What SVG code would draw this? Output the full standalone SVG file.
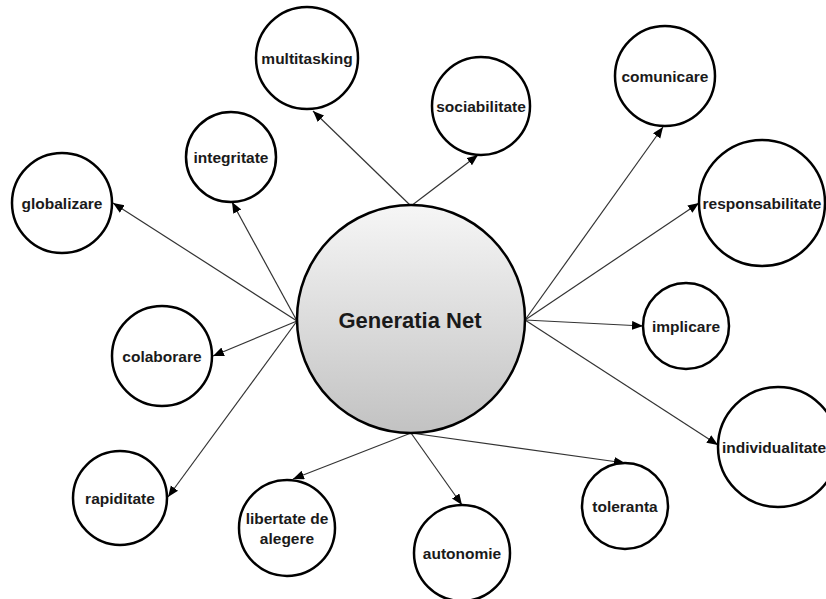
<svg xmlns="http://www.w3.org/2000/svg" width="826" height="599" viewBox="0 0 826 599">
<style>
.node circle{fill:#fff;stroke:#000;stroke-width:2.5}
.node text{font-family:"Liberation Sans",Arial,sans-serif;font-weight:bold;font-size:15.5px;fill:#1a1a1a;text-anchor:middle;dominant-baseline:central}
#center circle{fill:url(#g);stroke:#000;stroke-width:2.5}
#center text{font-size:22px}
#edges line{stroke:#333;stroke-width:1.2;marker-end:url(#arr)}
</style>
<defs>
<linearGradient id="g" x1="0" y1="0" x2="0" y2="1">
<stop offset="0" stop-color="#f6f6f6"/>
<stop offset="1" stop-color="#c2c2c2"/>
</linearGradient>
<marker id="arr" markerUnits="userSpaceOnUse" markerWidth="12" markerHeight="10" refX="11" refY="4.5" orient="auto">
<path d="M0,0 L11,4.5 L0,9 z" fill="#000"/>
</marker>
</defs>
<rect width="826" height="599" fill="#fff"/>
<g id="edges">
<line x1="411" y1="206" x2="313" y2="111"/>
<line x1="411" y1="206" x2="478" y2="155"/>
<line x1="297" y1="321" x2="113" y2="203"/>
<line x1="297" y1="321" x2="232" y2="202"/>
<line x1="297" y1="321" x2="213" y2="356"/>
<line x1="297" y1="321" x2="168" y2="497"/>
<line x1="525" y1="320" x2="663" y2="127"/>
<line x1="525" y1="320" x2="699" y2="203"/>
<line x1="525" y1="320" x2="643" y2="326"/>
<line x1="525" y1="320" x2="718" y2="445"/>
<line x1="411" y1="433" x2="293" y2="479"/>
<line x1="411" y1="433" x2="462" y2="505"/>
<line x1="411" y1="433" x2="625" y2="463"/>
</g>
<g id="center" class="node"><circle cx="411" cy="319" r="114"/><text x="410" y="320">Generatia Net</text></g>
<g id="multitasking" class="node"><circle cx="307" cy="58" r="51"/><text x="307" y="58">multitasking</text></g>
<g id="sociabilitate" class="node"><circle cx="481" cy="106" r="49"/><text x="481" y="106">sociabilitate</text></g>
<g id="comunicare" class="node"><circle cx="665" cy="76" r="50"/><text x="665" y="76">comunicare</text></g>
<g id="integritate" class="node"><circle cx="231" cy="157" r="45"/><text x="231" y="157">integritate</text></g>
<g id="globalizare" class="node"><circle cx="62" cy="203" r="50"/><text x="62" y="203">globalizare</text></g>
<g id="responsabilitate" class="node"><circle cx="762" cy="203" r="63"/><text x="762" y="203">responsabilitate</text></g>
<g id="colaborare" class="node"><circle cx="162" cy="356" r="50"/><text x="162" y="356">colaborare</text></g>
<g id="implicare" class="node"><circle cx="686" cy="326" r="43"/><text x="686" y="326">implicare</text></g>
<g id="individualitate" class="node"><circle cx="778" cy="447" r="60"/><text x="774" y="447">individualitate</text></g>
<g id="rapiditate" class="node"><circle cx="120" cy="498" r="47"/><text x="120" y="498">rapiditate</text></g>
<g id="libertate" class="node"><circle cx="287" cy="528" r="48"/><text x="287" y="518">libertate de</text><text x="287" y="538">alegere</text></g>
<g id="autonomie" class="node"><circle cx="462" cy="553" r="48"/><text x="462" y="553">autonomie</text></g>
<g id="toleranta" class="node"><circle cx="625" cy="506" r="43"/><text x="625" y="506">toleranta</text></g>
</svg>
